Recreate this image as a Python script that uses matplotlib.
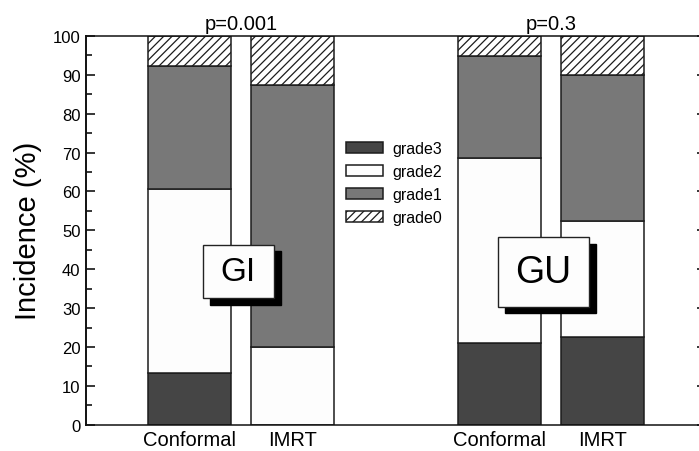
import matplotlib
matplotlib.use("Agg")
import matplotlib.pyplot as plt
import matplotlib.transforms as mtransforms
from matplotlib.patches import Patch, Rectangle
from matplotlib.ticker import MultipleLocator

plt.rcParams['font.family'] = ['Liberation Sans', 'DejaVu Sans']
plt.rcParams['hatch.linewidth'] = 0.9

# Toxicity incidence (%) per technique, stacked grade3 -> grade0
groups = ["GI", "GI", "GU", "GU"]
techniques = ["Conformal", "IMRT", "Conformal", "IMRT"]
grade3 = [13.2, 0.0, 21.1, 22.5]
grade2 = [47.4, 20.0, 47.4, 30.0]
grade1 = [31.6, 67.5, 26.3, 37.5]
grade0 = [7.9, 12.5, 5.3, 10.0]
p_values = ["p=0.001", "p=0.3"]
positions = [1, 2, 4, 5]

fig = plt.figure(figsize=(6.99, 4.52), dpi=100)
ax = fig.add_axes([86 / 699, (452 - 425.7) / 452, 620 / 699, 388.7 / 452])

edge = '#1c1c1c'
lw = 1.1
width = 0.8
bottom = [0.0] * 4
series = [
    ("grade3", grade3, dict(facecolor='#454545')),
    ("grade2", grade2, dict(facecolor='#fdfdfd')),
    ("grade1", grade1, dict(facecolor='#787878')),
    ("grade0", grade0, dict(facecolor='white', hatch='////')),
]
for name, vals, style in series:
    ax.bar(positions, vals, width=width, bottom=bottom, edgecolor=edge,
           linewidth=lw, label=name, zorder=2, **style)
    bottom = [b + v for b, v in zip(bottom, vals)]

ax.set_xlim(0, 6)
ax.set_ylim(0, 100)
ax.yaxis.set_major_locator(MultipleLocator(10))
ax.yaxis.set_minor_locator(MultipleLocator(5))
ax.tick_params(axis='y', which='major', direction='in', length=6.5, width=1.1,
               right=True, labelsize=12, pad=4)
ax.tick_params(axis='y', which='minor', direction='in', length=4.3, width=1.1,
               right=True)
ax.set_xticks(positions)
ax.set_xticklabels(techniques)
ax.tick_params(axis='x', length=0, labelsize=14.5, pad=4)
for s in ax.spines.values():
    s.set_linewidth(1.1)
    s.set_color('#111111')
ax.spines['left'].set_linewidth(1.4)

ax.set_ylabel("Incidence (%)", fontsize=21, labelpad=8)

# p-values above each group
for i, p in enumerate(p_values):
    xc = (positions[2 * i] + positions[2 * i + 1]) / 2
    ax.annotate(p, xy=(xc, 1), xycoords=('data', 'axes fraction'),
                xytext=(0, 2), textcoords='offset points',
                ha='center', va='bottom', fontsize=14.5)

# Group label boxes with drop shadow
shadow = mtransforms.offset_copy(ax.transData, fig=fig, x=5, y=-5, units='points')
boxes = [("GI", 1.472, 39.5, 0.687, 13.7, 24),
         ("GU", 4.425, 39.3, 0.881, 17.8, 27)]
for label, cx, cy, w, h, fs in boxes:
    ax.add_patch(Rectangle((cx - w / 2, cy - h / 2), w, h, transform=shadow,
                           facecolor='black', edgecolor='black', zorder=4))
    ax.add_patch(Rectangle((cx - w / 2, cy - h / 2), w, h,
                           facecolor='#fdfdfd', edgecolor='#222222',
                           linewidth=1.0, zorder=5))
    ax.text(cx, cy, label, ha='center', va='center', fontsize=fs, zorder=6)

handles = [Patch(facecolor=st['facecolor'], edgecolor=edge, linewidth=lw,
                 hatch=st.get('hatch')) for _, _, st in series]
ax.legend(handles, [n for n, _, _ in series], loc='upper left',
          bbox_to_anchor=(0.42, 0.73), frameon=False, fontsize=11.5,
          borderpad=0, borderaxespad=0, handlelength=2.3, handleheight=0.7,
          labelspacing=0.5, handletextpad=0.55)

fig.savefig("out.png", dpi=100)
